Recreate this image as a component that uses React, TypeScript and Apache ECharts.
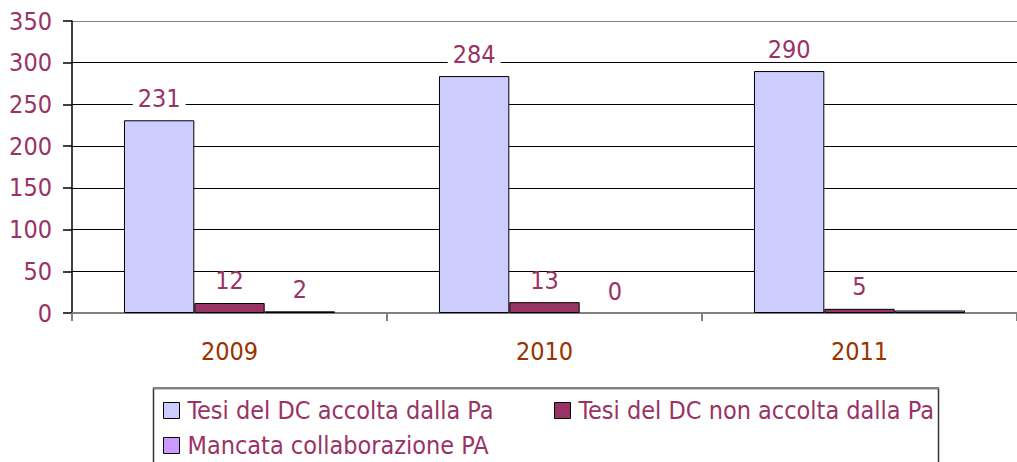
import React, { useEffect, useRef } from "react";
import * as echarts from "echarts";

const categories = ["2009", "2010", "2011"];
const seriesNames = [
  "Tesi del DC accolta dalla Pa",
  "Tesi del DC non accolta dalla Pa",
  "Mancata collaborazione PA",
];
const accolta = [231, 284, 290];
const nonAccolta = [12, 13, 5];
const mancata = [2, 0, 3];
const mancataLabelShown = [true, true, false];
const yTicks = { min: 0, max: 350, interval: 50 };
const colors = ["#CCCCFF", "#993366", "#CC99FF"];

const FONT = "Tahoma, 'DejaVu Sans Condensed', 'DejaVu Sans', sans-serif";
const LABEL_COLOR = "#993366";

export default function App() {
  const ref = useRef<HTMLDivElement>(null);
  useEffect(() => {
    if (!ref.current) return;
    const chart = echarts.init(ref.current, null, { renderer: "svg" });
    const labelBase = {
      show: true,
      position: "top",
      distance: 12,
      color: LABEL_COLOR,
      fontSize: 25,
      fontFamily: FONT,
      lineHeight: 16,
      backgroundColor: "#ffffff",
      padding: [0, 5, 2, 5],
    };
    const mkSeries = (name: string, data: any[], color: string) => ({
      name,
      type: "bar",
      data,
      barGap: "0%",
      barCategoryGap: "33%",
      itemStyle: { color, borderColor: "#000", borderWidth: 1 },
      label: labelBase,
    });
    const legendCommon = {
      orient: "horizontal",
      padding: 0,
      icon: "rect",
      itemWidth: 16,
      itemHeight: 16,
      itemStyle: { borderColor: "#000", borderWidth: 1 },
      textStyle: {
        color: LABEL_COLOR,
        fontSize: 25,
        fontFamily: FONT,
        padding: [0, 0, 0, 3],
      },
      selectedMode: false,
    };
    chart.setOption({
      animation: false,
      backgroundColor: "#ffffff",
      grid: { left: 72, top: 21, width: 950, height: 292 },
      xAxis: {
        type: "category",
        data: categories,
        boundaryGap: true,
        axisLine: { lineStyle: { color: "#808080", width: 2 } },
        axisTick: { show: true, length: 8, lineStyle: { color: "#808080", width: 2 } },
        axisLabel: { color: "#993300", fontSize: 25, fontFamily: FONT, margin: 26 },
      },
      yAxis: {
        type: "value",
        min: yTicks.min,
        max: yTicks.max,
        interval: yTicks.interval,
        axisLine: { show: true, lineStyle: { color: "#000", width: 1.5 } },
        axisTick: { show: true, length: 9, lineStyle: { color: "#000", width: 1.5 } },
        axisLabel: { color: LABEL_COLOR, fontSize: 25, fontFamily: FONT, margin: 20 },
        splitLine: {
          show: true,
          lineStyle: {
            color: ["#000", "#000", "#000", "#000", "#000", "#000", "#000", "#808080"],
            width: 1,
          },
        },
      },
      legend: [
        { ...legendCommon, data: [seriesNames[0]], left: 163, top: 398 },
        { ...legendCommon, data: [seriesNames[1]], left: 554, top: 398 },
        { ...legendCommon, data: [seriesNames[2]], left: 163, top: 433 },
      ],
      graphic: [
        {
          type: "rect",
          shape: { x: 153.5, y: 388.5, width: 785, height: 100 },
          style: { fill: "none", stroke: "#333", lineWidth: 1.5 },
          silent: true,
        },
        {
          type: "line",
          shape: { x1: 153, y1: 388, x2: 939, y2: 388 },
          style: { stroke: "#808080", lineWidth: 2 },
          silent: true,
        },
      ],
      series: [
        mkSeries(seriesNames[0], accolta, colors[0]),
        mkSeries(seriesNames[1], nonAccolta, colors[1]),
        mkSeries(
          seriesNames[2],
          mancata.map((v, i) => ({
            value: v,
            label: { show: mancataLabelShown[i] },
            itemStyle: v === 0 ? { borderWidth: 0 } : undefined,
          })),
          colors[2]
        ),
      ],
    });
    return () => chart.dispose();
  }, []);
  return (
    <div
      ref={ref}
      style={{ position: "fixed", left: 0, top: 0, width: 1017, height: 462 }}
    />
  );
}
